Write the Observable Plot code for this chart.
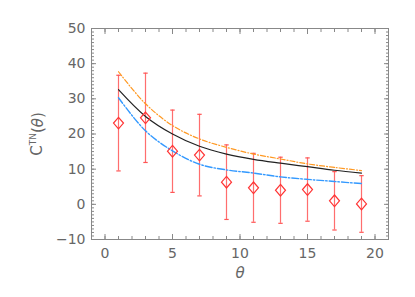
<!DOCTYPE html>
<html><head><meta charset="utf-8">
<script src="https://cdn.jsdelivr.net/npm/d3@7"></script>
<script src="https://cdn.jsdelivr.net/npm/@observablehq/plot@0.6"></script>
<style>
body{margin:0;background:#fff;}
svg{font-family:"DejaVu Sans",sans-serif;}
</style></head><body><div id="chart"></div>
<script>
const theta = [1,3,5,7,9,11,13,15,17,19];
const obs = [23.1,24.6,15.1,14.0,6.3,4.7,4.0,4.2,1.0,0.1];
const errHalf = [13.6,12.7,11.7,11.6,10.6,9.8,9.4,9.0,8.3,8.05];
const modelBlack = [32.6,25.0,20.0,16.5,14.3,12.8,11.7,10.7,9.7,8.9];
const modelOrange = [37.7,28.6,22.4,18.6,16.2,14.3,12.9,11.5,10.5,9.6];
const modelBlue = [30.3,20.9,15.2,11.4,9.8,8.9,7.8,7.1,6.5,5.9];
const xMajor = [0,5,10,15,20];
const xMinor = d3.range(-1,22,1);
const yMajor = [-10,0,10,20,30,40,50];
const yMinor = d3.range(-10,51,1);
const xLabel = "θ";
const yLabel = "C(θ)";

const pts = theta.map((t,i)=>({t, y: obs[i], lo: obs[i]-errHalf[i], hi: obs[i]+errHalf[i]}));
const cap = {draw(ctx, size){ const w = 2.2; ctx.moveTo(-w,0); ctx.lineTo(w,0); }};
const diamond = {draw(ctx, size){ const w=5, h=5.8; ctx.moveTo(0,-h); ctx.lineTo(w,0); ctx.lineTo(0,h); ctx.lineTo(-w,0); ctx.closePath(); }};
const axisColor = "#888";
const txt = "#666";
const series = (vals) => theta.map((t,i)=>({t, v: vals[i]}));

const chart = Plot.plot({
  width: 415, height: 297,
  marginLeft: 91, marginRight: 27, marginTop: 28, marginBottom: 58,
  x: {domain: [-1, 21]},
  y: {domain: [-10, 50]},
  marks: [
    Plot.frame({stroke: axisColor}),
    Plot.axisX(xMinor, {anchor:"bottom", tickSize:-3, tickFormat: ()=>"", stroke: axisColor, label:null}),
    Plot.axisX(xMinor, {anchor:"top", tickSize:-3, tickFormat: ()=>"", stroke: axisColor, label:null}),
    Plot.axisY(yMinor, {anchor:"left", tickSize:-3, tickFormat: ()=>"", stroke: axisColor, label:null}),
    Plot.axisY(yMinor, {anchor:"right", tickSize:-3, tickFormat: ()=>"", stroke: axisColor, label:null}),
    Plot.axisX(xMajor, {anchor:"bottom", tickSize:-5, tickFormat: ()=>"", stroke: axisColor, label:null}),
    Plot.axisX(xMajor, {anchor:"top", tickSize:-5, tickFormat: ()=>"", stroke: axisColor, label:null}),
    Plot.axisY(yMajor, {anchor:"left", tickSize:-5, tickFormat: ()=>"", stroke: axisColor, label:null}),
    Plot.axisY(yMajor, {anchor:"right", tickSize:-5, tickFormat: ()=>"", stroke: axisColor, label:null}),
    Plot.axisX(xMajor, {anchor:"bottom", tickSize:0, tickPadding:9, fontSize:14, fill: txt, label:null}),
    Plot.axisY(yMajor, {anchor:"left", tickSize:0, tickPadding:6, fontSize:14, fill: txt,
      tickFormat: d => d < 0 ? "−" + Math.abs(d) : String(d), label:null}),
    Plot.text([xLabel], {frameAnchor:"bottom", dy:38, fontSize:15, fill: txt, fontStyle:"italic"}),
    Plot.text([yLabel], {frameAnchor:"left", textAnchor:"middle", dx:-54, dy:0, rotate:-90, fontSize:15, fill: txt}),
    Plot.ruleX(pts, {x:"t", y1:"lo", y2:"hi", stroke:"#ff5555", strokeOpacity:0.85, strokeWidth:1.2}),
    Plot.dot(pts, {x:"t", y:"lo", symbol: cap, stroke:"#ff5555", strokeWidth:1.2}),
    Plot.dot(pts, {x:"t", y:"hi", symbol: cap, stroke:"#ff5555", strokeWidth:1.2}),
    Plot.line(series(modelOrange), {x:"t", y:"v", curve:"catmull-rom", stroke:"#ff9922", strokeWidth:1.2, strokeDasharray:"5,2,1,2"}),
    Plot.line(series(modelBlack), {x:"t", y:"v", curve:"catmull-rom", stroke:"#222", strokeWidth:1.2}),
    Plot.line(series(modelBlue), {x:"t", y:"v", curve:"catmull-rom", stroke:"#3399ff", strokeWidth:1.4, strokeDasharray:"7,2,1.5,2"}),
    Plot.dot(pts, {x:"t", y:"y", symbol: diamond, stroke:"#ff3333", fill:"none", strokeWidth:1.2})
  ]
});
// superscript "TN" in the y label
d3.select(chart).selectAll("text").filter(function(){ return this.textContent === yLabel; }).each(function(){
  const t = d3.select(this); t.text("");
  t.append("tspan").text("C");
  t.append("tspan").attr("font-size", 9).attr("dy", "-0.7em").text("TN");
  t.append("tspan").attr("dy", "0.45em").text("(");
  t.append("tspan").attr("font-style", "italic").text("θ");
  t.append("tspan").text(")");
});
document.getElementById("chart").appendChild(chart);
</script></body></html>
